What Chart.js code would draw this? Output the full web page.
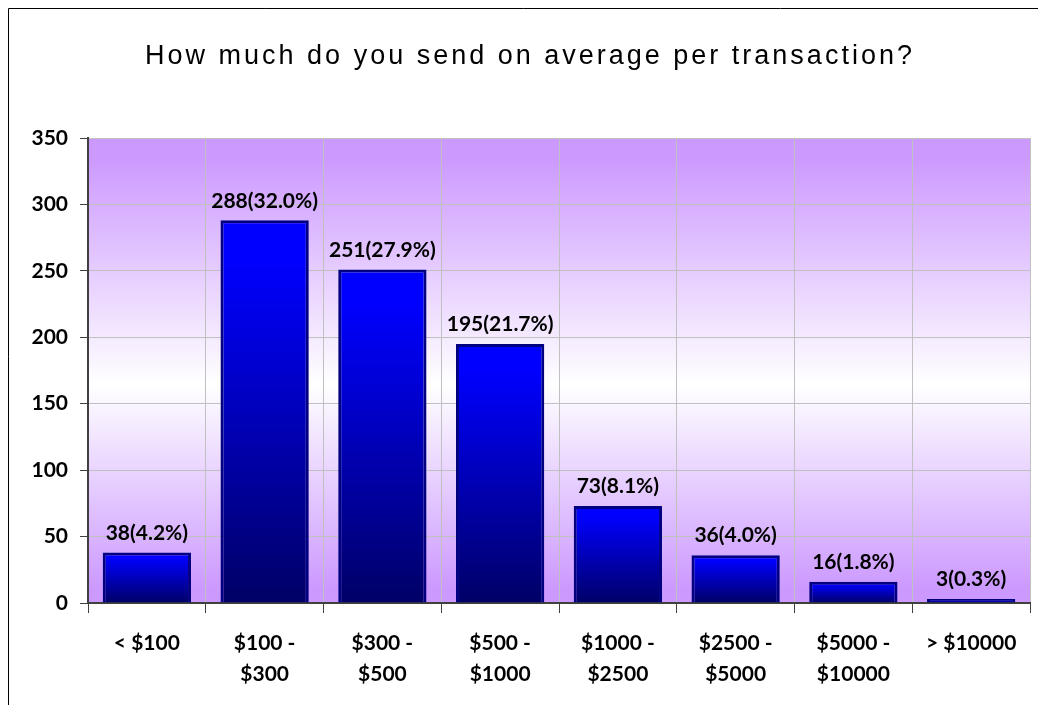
<!DOCTYPE html>
<html>
<head>
<meta charset="utf-8">
<script src="https://cdn.jsdelivr.net/npm/chart.js@4"></script>
<style>
  html, body { margin: 0; padding: 0; background: #fff; }
</style>
</head>
<body>
<canvas id="chart" width="1038" height="705"></canvas>
<script>
var categories = [['< $100'], ['$100 -', '$300'], ['$300 -', '$500'], ['$500 -', '$1000'],
    ['$1000 -', '$2500'], ['$2500 -', '$5000'], ['$5000 -', '$10000'], ['> $10000']];
var counts = [38, 288, 251, 195, 73, 36, 16, 3];
var percents = ['4.2', '32.0', '27.9', '21.7', '8.1', '4.0', '1.8', '0.3'];
var yTicks = [0, 50, 100, 150, 200, 250, 300, 350];
var titleText = 'How much do you send on average per transaction?';

var labelFont = { family: 'Lato', size: 21, weight: 'bold', lineHeight: 1.5 };

// frame, plot background, title and value labels
var backdrop = {
    id: 'backdrop',
    beforeDraw: function (chart) {
        var c = chart.ctx, a = chart.chartArea;
        c.save();
        c.strokeStyle = '#000';
        c.lineWidth = 1;
        c.beginPath();
        c.moveTo(8.5, 705);
        c.lineTo(8.5, 8.5);
        c.lineTo(1038, 8.5);
        c.stroke();

        var g = c.createLinearGradient(0, a.top, 0, a.bottom);
        g.addColorStop(0, '#CC99FF');
        g.addColorStop(0.04, '#CC99FF');
        g.addColorStop(0.53, '#FFFFFF');
        g.addColorStop(0.97, '#CC99FF');
        g.addColorStop(1, '#CC99FF');
        c.fillStyle = g;
        c.fillRect(a.left, a.top, a.right - a.left, a.bottom - a.top);
        c.restore();
    },
    afterDraw: function (chart) {
        var c = chart.ctx;
        var meta = chart.getDatasetMeta(0);
        c.save();
        c.fillStyle = '#000';
        c.textAlign = 'center';
        c.textBaseline = 'middle';
        c.font = '27px "Liberation Sans"';
        c.letterSpacing = '3px';
        c.fillText(titleText, 530, 57);
        c.letterSpacing = '0px';

        c.font = 'bold 21px Lato';
        c.textBaseline = 'bottom';
        meta.data.forEach(function (bar, i) {
            c.fillText(counts[i] + '(' + percents[i] + '%)', bar.x, bar.y - 9);
        });
        c.restore();
    }
};

var ctx = document.getElementById('chart').getContext('2d');
var myChart = new Chart(ctx, {
    type: 'bar',
    data: {
        labels: categories,
        datasets: [
            {
                data: counts,
                backgroundColor: function (context) {
                    var chart = context.chart;
                    if (!chart.chartArea || !chart.scales.y) return '#0000FF';
                    var y = chart.scales.y;
                    var top = y.getPixelForValue(context.raw), base = y.getPixelForValue(0);
                    if (!isFinite(top) || !isFinite(base) || top === base) return '#0000FF';
                    var g = chart.ctx.createLinearGradient(0, top, 0, base);
                    g.addColorStop(0, '#0000FF');
                    g.addColorStop(0.1, '#0000FF');
                    g.addColorStop(1, '#000066');
                    return g;
                },
                borderColor: '#000080',
                borderWidth: 3,
                borderSkipped: 'bottom',
                barPercentage: 0.75,
                categoryPercentage: 1,
            },
        ],
    },
    options: {
        responsive: false,
        animation: false,
        devicePixelRatio: 1,
        layout: { padding: { top: 138, right: 8, left: 0, bottom: 0 } },
        plugins: {
            legend: { display: false },
            tooltip: { enabled: false },
            title: { display: false },
        },
        scales: {
            x: {
                grid: {
                    offset: true,
                    color: '#C0C0C0',
                    tickLength: 10,
                    tickColor: '#404040',
                },
                border: { color: '#404040', width: 2 },
                ticks: { color: '#000', font: labelFont, padding: 14, maxRotation: 0, autoSkip: false },
                afterFit: function (s) { s.height = 102; },
            },
            y: {
                min: 0,
                max: 350,
                afterBuildTicks: function (s) {
                    s.ticks = yTicks.map(function (v) { return { value: v }; });
                },
                grid: { color: '#C0C0C0', tickLength: 8, tickColor: '#404040' },
                border: { color: '#404040', width: 2 },
                ticks: { color: '#000', font: labelFont, padding: 12 },
                afterFit: function (s) { s.width = 88; },
            },
        },
    },
    plugins: [backdrop],
});
</script>
</body>
</html>
